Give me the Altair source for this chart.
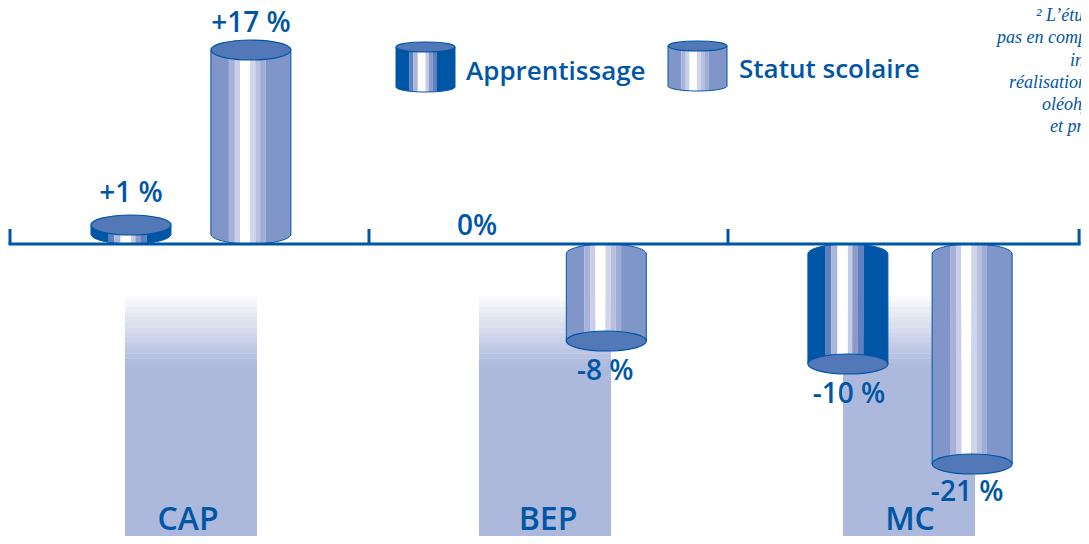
import altair as alt
import pandas as pd

# ---- data ----
GROUPS = ["CAP", "BEP", "MC"]
SERIES = ["Apprentissage", "Statut scolaire"]
BAR_GROUP = ["CAP", "CAP", "BEP", "BEP", "MC", "MC"]
BAR_SERIES = ["Apprentissage", "Statut scolaire", "Apprentissage", "Statut scolaire", "Apprentissage", "Statut scolaire"]
BAR_VALUE = [1, 17, 0, -8, -10, -21]
BAR_LABEL = ["+1 %", "+17 %", "0%", "-8 %", "-10 %", "-21 %"]
BAR_POS = [0.337, 0.671, 0.304, 0.661, 0.334, 0.68]
AXIS_TICKS = [0, 1, 2, 2.978]

# the original is not drawn to a strictly linear scale: piecewise scale
Y_DOMAIN = [-21, -10, -8, 0, 1, 17]
Y_RANGE = [456, 356, 333, 236, 217, 42]

BLUE = "#0056a6"
CAP = "#5278b8"
STOPS = {
    "Apprentissage": [0, .222, .29, .37, .5, .555, .625, .695, 1],
    "Statut scolaire": [0, .225, .30, .365, .49, .555, .615, .685, 1],
}
COLORS = {
    "Apprentissage": [BLUE, "#5f7fbd", "#a9b7dc", "#ffffff", "#c5cce6", "#8a9bcc", "#5f7fbd", BLUE],
    "Statut scolaire": ["#8095c8", "#a7b2d9", "#c9cfe8", "#ffffff", "#d0d5ea", "#b8c0df", "#9fadd6", "#8095c8"],
}
FADE = ["#fafafc", "#f4f5fa", "#eceef6", "#e6e9f4", "#e0e4f1", "#dbe0ef", "#d6dcee", "#d0d6eb",
        "#cad1e9", "#c3cbe6", "#bdc6e3", "#b8c2e1", "#b3bddf", "#afbadd", "#adb9dc"]
FOOT = [("\u00b2 L\u2019\u00e9tud", 1036, 21), ("pas en comp", 997, 43), ("ins", 1070, 66),
        ("r\u00e9alisation", 1009, 88), ("ol\u00e9ohy", 1042, 110), ("et pne", 1050, 132)]

# ---- layout helpers ----
OFF = 8
UNIT = 359.0
XS = alt.Scale(domain=[0, 3], range=[2, 1079], nice=False, zero=False)
YS = alt.Scale(domain=Y_DOMAIN, range=Y_RANGE, nice=False, zero=False)
FONT = "Open Sans"


def ell(b):
    k = .5523
    kb = round(k * b, 4)
    return (f"M-1,0 C-1,{-kb} {-k},{-b} 0,{-b} C{k},{-b} 1,{-kb} 1,0 "
            f"C1,{kb} {k},{b} 0,{b} C{-k},{b} -1,{kb} -1,0 Z")


def arc_path(b, s):
    k = .5523
    kb = round(k * b, 4)
    y = -s * b
    return f"M-1,{y} C-1,{round(y + s * kb, 4)} {-k},0 0,0 C{k},0 1,{round(y + s * kb, 4)} 1,{y}"


def mask_path(b, s):
    y = -s * b
    return arc_path(b, s) + f" L1.05,{y} L1.05,{s * .02} L-1.05,{s * .02} L-1.05,{y} Z"


def cylinder(rows, xscale, yscale, half, rx, b):
    """rows: x, top, base, series, up"""
    stripes = []
    for r in rows:
        st = STOPS[r["series"]]
        for i, c in enumerate(COLORS[r["series"]]):
            stripes.append({"x": r["x"] - half + 2 * half * st[i], "x2": r["x"] - half + 2 * half * st[i + 1],
                            "top": r["top"], "base": r["base"], "c": c, "o": i})
    sdf = pd.DataFrame(stripes)
    df = pd.DataFrame(rows)
    df["xl"] = df["x"] - half
    df["xr"] = df["x"] + half
    size = (2 * rx) ** 2
    X = alt.X("x:Q", scale=xscale, axis=None)
    layers = [
        alt.Chart(sdf).mark_rect(strokeWidth=0).encode(
            x=alt.X("x:Q", scale=xscale, axis=None), x2="x2:Q",
            y=alt.Y("top:Q", scale=yscale, axis=None), y2="base:Q",
            color=alt.Color("c:N", scale=None, legend=None),
        )
    ]
    for col in ["xl", "xr"]:
        layers.append(alt.Chart(df).mark_rule(color=BLUE, strokeWidth=1).encode(
            x=alt.X(f"{col}:Q", scale=xscale, axis=None),
            y=alt.Y("top:Q", scale=yscale, axis=None), y2="base:Q"))
    for up in [1, -1]:
        sub = df[df["up"] == up]
        if len(sub) == 0:
            continue
        layers.append(alt.Chart(sub).mark_point(shape=mask_path(b, up), size=size, filled=True, fill="#ffffff",
                                                strokeWidth=0, opacity=1).encode(
            x=X, y=alt.Y("base:Q", scale=yscale, axis=None)))
        layers.append(alt.Chart(sub).mark_point(shape=arc_path(b, up), size=size, filled=False, stroke=BLUE,
                                                strokeWidth=1, opacity=1).encode(
            x=X, y=alt.Y("base:Q", scale=yscale, axis=None)))
    layers.append(alt.Chart(df).mark_point(shape=ell(b), size=size, filled=True, fill=CAP, stroke=BLUE,
                                           strokeWidth=1.2, opacity=1).encode(
        x=X, y=alt.Y("top:Q", scale=yscale, axis=None)))
    return layers


layers = []

# faded category bands
BAND_X = {"CAP": (125, 257), "BEP": (479, 611), "MC": (843, 975)}
band_rows = []
for g in GROUPS:
    for i, c in enumerate(FADE):
        band_rows.append({"x": BAND_X[g][0] - OFF, "x2": BAND_X[g][1] - OFF,
                          "y": 288 + i * 5.2, "y2": 288 + (i + 1) * 5.2 + .4, "c": c})
    band_rows.append({"x": BAND_X[g][0] - OFF, "x2": BAND_X[g][1] - OFF, "y": 288 + 15 * 5.2, "y2": 536, "c": FADE[-1]})
layers.append(alt.Chart(pd.DataFrame(band_rows)).mark_rect(strokeWidth=0).encode(
    x=alt.X("x:Q", scale=None, axis=None), x2="x2:Q",
    y=alt.Y("y:Q", scale=None, axis=None), y2="y2:Q",
    color=alt.Color("c:N", scale=None, legend=None)))

# bars
rows = []
for g, s, v, p in zip(BAR_GROUP, BAR_SERIES, BAR_VALUE, BAR_POS):
    if v != 0:
        rows.append({"x": GROUPS.index(g) + p, "top": v, "base": 0, "series": s, "up": 1 if v > 0 else -1})
layers += cylinder(rows, XS, YS, 40 / UNIT, 40, .25)

# axis line with group separators
base_df = pd.DataFrame({"a": [AXIS_TICKS[0]], "b": [AXIS_TICKS[-1]], "v": [0]})
tick_df = pd.DataFrame({"a": AXIS_TICKS})
layers.append(alt.Chart(base_df).mark_rule(color=BLUE, strokeWidth=3, strokeCap="square").encode(
    x=alt.X("a:Q", scale=XS, axis=None), x2="b:Q", y=alt.Y("v:Q", scale=YS, axis=None)))
layers.append(alt.Chart(tick_df).mark_rule(color=BLUE, strokeWidth=3).encode(
    x=alt.X("a:Q", scale=XS, axis=None), y=alt.value(221), y2=alt.value(236)))

# legend glyphs
LEG = [("Apprentissage", 425.5 - OFF, 47 - OFF, 92 - OFF), ("Statut scolaire", 697.5 - OFF, 46 - OFF, 91 - OFF)]
leg_rows = [{"x": x, "top": t, "base": b, "series": s, "up": 1} for s, x, t, b in LEG]
layers += cylinder(leg_rows, None, None, 29.5, 29.5, .17)

TXT = dict(font=FONT, fontWeight=600, color=BLUE, align="center", baseline="alphabetic")

# value labels
LABEL_DY = [-23, -18, -9, 39, 39, 37]
LABEL_DX = [0, 0, -1, -1, 1, -5]
for g, v, p, lab, dy, dx in zip(BAR_GROUP, BAR_VALUE, BAR_POS, BAR_LABEL, LABEL_DY, LABEL_DX):
    d = pd.DataFrame({"x": [GROUPS.index(g) + p], "v": [v], "t": [lab]})
    layers.append(alt.Chart(d).mark_text(fontSize=28, dy=dy, dx=dx, **TXT).encode(
        x=alt.X("x:Q", scale=XS, axis=None), y=alt.Y("v:Q", scale=YS, axis=None), text="t:N"))

# category labels
CAT_X = [188, 548, 910]
cat = pd.DataFrame({"x": [x - OFF for x in CAT_X], "y": [530 - OFF] * 3, "t": GROUPS})
layers.append(alt.Chart(cat).mark_text(fontSize=32, **TXT).encode(
    x=alt.X("x:Q", scale=None, axis=None), y=alt.Y("y:Q", scale=None, axis=None), text="t:N"))

# legend text
leg_t = pd.DataFrame({"x": [466 - OFF, 739 - OFF], "y": [80 - OFF, 78 - OFF], "t": SERIES})
layers.append(alt.Chart(leg_t).mark_text(fontSize=26, font=FONT, fontWeight=600, color=BLUE, align="left",
                                         baseline="alphabetic").encode(
    x=alt.X("x:Q", scale=None, axis=None), y=alt.Y("y:Q", scale=None, axis=None), text="t:N"))

# clipped footnote
foot = pd.DataFrame({"t": [f[0] for f in FOOT], "x": [f[1] - OFF for f in FOOT], "y": [f[2] - OFF for f in FOOT]})
layers.append(alt.Chart(foot).mark_text(fontSize=18, font="Liberation Serif", fontStyle="italic", color=BLUE,
                                        align="left", baseline="alphabetic").encode(
    x=alt.X("x:Q", scale=None, axis=None), y=alt.Y("y:Q", scale=None, axis=None), text="t:N"))

chart = alt.layer(*layers).properties(
    width=1073, height=528, padding=0, autosize=alt.AutoSizeParams(type="none"), background="#ffffff"
).configure_view(stroke=None)

chart.save("out.html", embed_options={"renderer": "svg", "actions": False})
